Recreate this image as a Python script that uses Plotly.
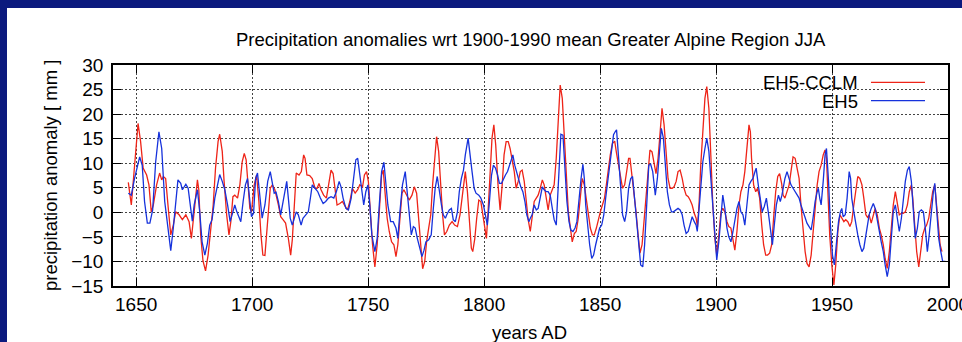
import plotly.graph_objects as go

# ---------------- data ----------------
cclm_years = [1646.6, 1647.9, 1650.8, 1651.9, 1653.0, 1654.5, 1655.5, 1656.5, 1657.4, 1658.8, 1660.1, 1661.0, 1661.7, 1662.7, 1663.7, 1664.9, 1666.0, 1667.0, 1668.5, 1669.9, 1671.4, 1672.8, 1673.8, 1675.2, 1676.4, 1677.0, 1677.8, 1678.8, 1679.9, 1681.0, 1682.2, 1683.2, 1684.2, 1685.3, 1686.0, 1687.1, 1687.9, 1689.0, 1690.0, 1690.8, 1691.7, 1692.5, 1693.7, 1694.7, 1695.7, 1696.6, 1697.4, 1698.3, 1699.0, 1699.7, 1700.9, 1701.9, 1702.9, 1703.8, 1704.6, 1705.5, 1706.7, 1707.8, 1708.7, 1709.8, 1711.3, 1712.3, 1713.3, 1714.4, 1715.6, 1716.6, 1717.3, 1718.0, 1719.0, 1720.2, 1721.2, 1722.2, 1722.8, 1723.6, 1724.8, 1725.9, 1727.1, 1728.0, 1728.8, 1729.7, 1730.8, 1732.0, 1733.2, 1734.0, 1734.9, 1735.7, 1736.6, 1737.8, 1738.9, 1740.1, 1741.1, 1742.1, 1743.2, 1744.4, 1745.5, 1746.4, 1747.6, 1748.4, 1749.3, 1750.1, 1751.0, 1751.9, 1752.9, 1753.9, 1754.8, 1755.8, 1756.5, 1757.4, 1758.2, 1759.1, 1760.1, 1761.1, 1762.0, 1762.8, 1763.7, 1764.6, 1765.4, 1766.6, 1767.7, 1768.9, 1769.9, 1770.9, 1771.8, 1772.6, 1773.5, 1774.4, 1775.2, 1776.1, 1777.0, 1777.8, 1778.7, 1779.5, 1780.4, 1781.3, 1782.1, 1782.9, 1783.9, 1785.0, 1786.2, 1787.3, 1788.5, 1789.6, 1790.8, 1791.9, 1792.8, 1793.7, 1794.5, 1795.1, 1796.0, 1796.8, 1797.7, 1798.6, 1799.4, 1800.3, 1801.0, 1801.7, 1802.6, 1803.4, 1804.2, 1805.0, 1806.0, 1806.9, 1807.8, 1808.6, 1809.5, 1810.4, 1811.2, 1812.1, 1813.0, 1813.8, 1814.7, 1815.6, 1816.4, 1817.3, 1818.1, 1819.0, 1819.9, 1820.7, 1821.6, 1822.5, 1823.3, 1824.2, 1825.1, 1825.9, 1826.8, 1827.6, 1828.5, 1829.4, 1830.2, 1831.1, 1832.0, 1832.8, 1833.7, 1834.6, 1835.4, 1836.3, 1837.2, 1838.0, 1838.9, 1839.7, 1840.6, 1841.5, 1842.3, 1843.2, 1844.1, 1844.9, 1845.8, 1846.7, 1847.5, 1848.4, 1849.3, 1850.1, 1851.0, 1851.9, 1852.7, 1853.6, 1854.4, 1855.3, 1856.3, 1857.1, 1858.0, 1858.9, 1859.7, 1860.6, 1861.4, 1862.3, 1862.9, 1863.8, 1864.6, 1865.5, 1866.4, 1867.2, 1868.1, 1869.0, 1869.8, 1870.7, 1871.5, 1872.4, 1873.3, 1874.1, 1875.0, 1875.9, 1876.7, 1877.6, 1878.5, 1879.3, 1880.2, 1881.1, 1881.9, 1882.8, 1883.6, 1884.5, 1885.4, 1886.2, 1887.1, 1888.0, 1888.8, 1889.7, 1890.6, 1891.4, 1892.0, 1892.7, 1893.4, 1894.3, 1895.2, 1896.0, 1896.9, 1897.8, 1898.6, 1899.5, 1900.3, 1901.2, 1902.1, 1902.9, 1903.8, 1904.7, 1905.5, 1906.4, 1907.3, 1908.1, 1909.0, 1909.9, 1910.7, 1911.6, 1912.4, 1913.3, 1914.2, 1914.8, 1915.3, 1916.2, 1917.1, 1917.9, 1918.8, 1919.7, 1920.5, 1921.4, 1922.2, 1923.1, 1924.0, 1924.8, 1925.7, 1926.6, 1927.4, 1928.3, 1928.9, 1929.7, 1930.6, 1931.5, 1932.3, 1933.2, 1934.1, 1934.9, 1935.8, 1936.6, 1937.5, 1938.4, 1939.2, 1940.1, 1941.0, 1941.8, 1942.7, 1943.6, 1944.4, 1945.3, 1946.2, 1947.0, 1947.6, 1948.2, 1949.0, 1949.9, 1950.8, 1951.6, 1952.5, 1953.4, 1954.2, 1955.1, 1955.9, 1956.8, 1957.7, 1958.5, 1959.4, 1960.3, 1961.1, 1962.0, 1962.9, 1963.7, 1964.6, 1965.3, 1966.0, 1966.9, 1967.8, 1968.6, 1969.5, 1970.4, 1971.2, 1972.1, 1972.9, 1973.8, 1974.7, 1975.5, 1976.4, 1977.3, 1978.1, 1979.0, 1979.9, 1980.7, 1981.6, 1982.5, 1983.3, 1984.2, 1984.8, 1985.6, 1986.5, 1987.4, 1988.2, 1989.1, 1990.0, 1990.8, 1991.7, 1992.5, 1993.4, 1994.3, 1994.8, 1995.7, 1996.6, 1997.4]
cclm_values = [6.1, 1.5, 18.1, 14.4, 9.0, 7.6, 5.6, 0.1, 1.5, 5.6, 8.0, 6.6, 7.3, 6.9, 1.5, -4.6, -2.6, 0.1, -0.5, -1.5, -0.5, -1.9, -5.3, 0.8, 6.6, 4.6, -4.6, -9.9, -11.9, -8.7, -3.2, 1.5, 9.0, 14.4, 15.9, 12.4, 6.3, -0.5, -4.6, -1.9, 3.2, 3.5, 2.9, 5.6, 10.3, 12.0, 10.7, 4.9, 0.8, 0.1, 5.6, 7.6, 2.2, -4.6, -8.7, -8.8, -1.2, 4.9, 5.6, 4.6, 1.5, -0.9, -1.5, -2.2, -5.3, -8.7, -5.6, 0.8, 8.0, 7.6, 8.3, 11.7, 11.0, 7.6, 7.5, 6.9, 4.9, 4.9, 5.9, 4.6, 3.5, 2.9, 5.9, 8.6, 7.9, 4.2, 1.5, 1.8, 2.2, 1.2, 0.5, 2.2, 4.9, 3.9, 4.6, 5.6, 5.2, 7.6, 8.3, 6.3, -0.5, -6.6, -11.1, -6.6, 0.1, 7.6, 8.6, 4.2, -1.2, -3.9, -6.0, -6.6, -9.0, -6.6, -0.5, 3.9, 4.6, 3.5, 2.5, 3.5, 5.2, 3.9, -1.2, -7.3, -11.5, -10.0, -6.0, -3.2, -0.5, 5.6, 11.7, 15.4, 12.4, 4.9, -0.5, -4.6, -3.9, -2.6, -1.9, -2.6, -2.9, -0.5, 4.2, 8.3, 4.2, -2.6, -7.3, -8.0, -5.3, -1.2, 2.5, 2.2, -0.5, -3.2, -5.3, 0.1, 8.3, 15.1, 17.8, 13.7, 5.6, 0.5, 5.6, 11.7, 14.4, 14.4, 13.0, 10.3, 8.3, 4.9, 6.3, 8.3, 8.6, 6.3, 2.2, -1.5, -3.9, -1.2, 2.2, 2.9, 3.5, 4.9, 6.6, 5.6, 2.9, 0.5, 3.5, 4.6, 5.6, 11.0, 19.1, 25.9, 23.2, 15.7, 6.9, 0.1, -3.2, -6.0, -4.3, -3.9, -1.2, 2.9, 6.9, 5.6, 2.2, -0.5, -3.2, -4.6, -4.6, -3.2, -1.2, 0.1, 1.5, 2.9, 5.6, 9.0, 11.7, 14.0, 14.5, 12.0, 9.6, 6.9, 4.9, 5.6, 8.3, 11.0, 11.0, 7.6, 4.2, 0.1, -4.6, -8.3, -6.6, -1.2, 4.2, 9.6, 12.7, 12.3, 9.6, 7.9, 11.0, 15.7, 21.2, 17.8, 11.0, 6.9, 4.9, 4.9, 5.2, 6.3, 8.3, 8.6, 6.9, 4.9, 3.5, 3.2, 2.5, 1.5, -0.2, -1.2, -3.0, 2.0, 9.6, 17.1, 23.2, 25.6, 21.2, 11.0, 1.5, -5.3, -8.7, -4.6, 0.1, 0.8, 0.1, -1.9, -2.9, -3.2, -5.3, -7.7, -3.9, 1.5, 4.2, 5.6, 8.3, 13.0, 17.8, 16.4, 11.0, 5.6, 4.2, 4.9, 2.9, -2.6, -6.6, -8.7, -8.7, -8.3, -6.6, -1.2, 4.2, 7.3, 7.9, 5.8, 3.5, 2.9, 4.2, 5.6, 8.3, 11.3, 11.0, 9.0, 6.9, 1.5, -3.9, -8.0, -10.4, -11.1, -8.7, -3.9, 1.5, 5.6, 8.3, 9.6, 11.7, 12.7, 11.0, 4.2, -4.6, -10.7, -14.8, -10.7, -3.9, -0.5, -1.2, -1.9, -1.5, -1.9, -2.9, -1.9, 1.5, 4.9, 7.3, 6.9, 5.6, 2.9, -0.5, -1.0, -0.5, -2.2, -0.5, 0.8, -0.5, -3.2, -4.6, -6.6, -9.4, -11.4, -8.0, -3.2, 1.5, 4.2, 1.5, -0.5, -0.2, -0.2, 0.1, 1.5, 4.2, 5.6, 2.9, -2.6, -8.0, -11.1, -8.0, -4.6, -3.2, -2.6, -1.2, 1.5, 4.2, 5.6, 2.9, -2.6, -6.6, -8.0]

eh5_years = [1646.6, 1647.9, 1649.3, 1651.5, 1652.6, 1653.6, 1654.8, 1655.9, 1657.1, 1658.4, 1659.8, 1661.0, 1662.3, 1663.7, 1664.9, 1666.0, 1667.0, 1668.0, 1669.2, 1669.9, 1671.4, 1672.4, 1673.5, 1674.2, 1675.0, 1676.4, 1677.4, 1678.4, 1679.6, 1680.7, 1681.7, 1682.7, 1683.9, 1685.0, 1686.0, 1687.1, 1688.2, 1689.4, 1690.5, 1691.7, 1692.5, 1693.4, 1694.3, 1695.1, 1696.1, 1697.1, 1698.0, 1698.9, 1699.7, 1700.6, 1701.5, 1702.3, 1703.3, 1704.3, 1705.5, 1706.7, 1707.8, 1708.7, 1709.5, 1710.3, 1711.3, 1712.3, 1713.0, 1714.1, 1714.9, 1715.6, 1716.4, 1717.3, 1718.2, 1719.0, 1719.9, 1721.1, 1721.9, 1723.1, 1724.2, 1725.1, 1725.9, 1727.1, 1728.3, 1729.4, 1730.6, 1731.7, 1732.9, 1734.0, 1735.2, 1736.3, 1737.5, 1738.3, 1739.2, 1740.4, 1741.5, 1742.7, 1743.5, 1744.7, 1745.5, 1746.4, 1747.3, 1748.1, 1749.0, 1749.9, 1750.7, 1751.6, 1752.9, 1753.9, 1754.8, 1755.8, 1756.8, 1757.6, 1758.5, 1759.7, 1760.8, 1762.0, 1762.8, 1763.7, 1764.8, 1766.0, 1766.9, 1767.7, 1768.6, 1769.5, 1770.3, 1771.2, 1772.3, 1773.2, 1774.1, 1774.9, 1776.1, 1777.2, 1778.1, 1778.9, 1779.8, 1780.7, 1781.6, 1782.4, 1783.3, 1783.9, 1785.0, 1785.9, 1786.7, 1787.6, 1788.5, 1789.3, 1790.2, 1791.1, 1791.9, 1793.1, 1793.9, 1794.8, 1795.7, 1796.5, 1797.7, 1798.6, 1799.7, 1800.6, 1801.4, 1802.3, 1803.2, 1804.0, 1804.9, 1805.8, 1806.6, 1807.5, 1808.3, 1809.2, 1810.1, 1810.9, 1811.8, 1812.4, 1813.2, 1814.1, 1815.0, 1815.8, 1816.7, 1817.6, 1818.4, 1819.3, 1819.9, 1820.7, 1821.6, 1822.5, 1823.3, 1824.2, 1825.1, 1825.9, 1826.8, 1827.6, 1828.5, 1829.4, 1830.2, 1831.1, 1831.7, 1832.5, 1833.1, 1834.0, 1834.8, 1835.7, 1836.6, 1837.4, 1838.3, 1839.2, 1840.0, 1840.9, 1841.8, 1842.6, 1843.2, 1843.8, 1844.6, 1845.5, 1846.4, 1847.2, 1848.1, 1849.0, 1849.8, 1850.7, 1851.6, 1852.4, 1853.3, 1854.2, 1855.0, 1855.8, 1856.5, 1857.1, 1858.0, 1858.9, 1859.7, 1860.6, 1861.4, 1862.3, 1863.2, 1864.0, 1864.9, 1865.8, 1866.6, 1867.5, 1868.4, 1869.2, 1870.1, 1871.0, 1871.8, 1872.7, 1873.8, 1874.7, 1875.6, 1876.4, 1877.3, 1878.2, 1879.0, 1879.9, 1880.8, 1881.6, 1882.5, 1883.6, 1884.5, 1885.4, 1886.2, 1887.1, 1888.0, 1888.8, 1889.7, 1890.6, 1891.4, 1891.9, 1892.6, 1893.4, 1894.3, 1895.2, 1896.0, 1896.9, 1897.8, 1898.6, 1899.5, 1900.3, 1901.2, 1902.1, 1902.9, 1903.8, 1904.7, 1905.5, 1906.4, 1907.3, 1908.1, 1909.0, 1909.9, 1910.7, 1911.6, 1912.4, 1913.3, 1914.2, 1915.0, 1915.9, 1916.8, 1917.3, 1918.2, 1919.1, 1919.9, 1920.8, 1921.7, 1922.5, 1923.4, 1924.3, 1925.1, 1926.0, 1926.9, 1927.7, 1928.4, 1929.7, 1930.6, 1931.5, 1932.3, 1933.2, 1934.1, 1934.9, 1935.8, 1936.6, 1937.5, 1938.4, 1939.2, 1940.1, 1941.0, 1941.8, 1942.7, 1943.6, 1944.1, 1944.7, 1945.3, 1946.2, 1947.0, 1947.6, 1948.5, 1949.3, 1950.2, 1951.0, 1951.9, 1952.8, 1953.6, 1954.2, 1954.8, 1955.7, 1956.5, 1957.4, 1958.0, 1958.5, 1959.4, 1960.3, 1961.1, 1962.0, 1962.9, 1963.7, 1964.5, 1965.2, 1966.0, 1966.9, 1967.8, 1968.6, 1969.5, 1970.4, 1971.2, 1972.1, 1972.9, 1973.8, 1974.7, 1975.5, 1976.4, 1977.3, 1978.1, 1979.0, 1979.9, 1980.7, 1981.6, 1982.5, 1983.3, 1984.2, 1985.0, 1985.9, 1986.8, 1987.6, 1988.5, 1989.4, 1990.2, 1991.1, 1991.9, 1992.8, 1993.7, 1994.3, 1995.1, 1996.0, 1996.9, 1997.7, 1998.9]
eh5_values = [3.9, 3.5, 6.9, 11.3, 9.6, 2.2, -2.2, -2.2, 0.5, 10.3, 16.4, 13.0, 2.2, -3.2, -7.8, -3.2, 1.5, 6.6, 5.9, 4.6, 5.7, 4.9, 0.8, -1.8, 1.5, 4.6, 0.1, -6.0, -8.7, -6.3, -2.6, -1.5, 2.9, 5.6, 7.7, 6.3, 4.6, 1.5, -1.9, 0.1, 1.5, 0.1, -1.2, -1.9, 2.2, 5.6, 6.9, 2.9, -0.9, -0.2, 6.9, 8.0, 2.9, -1.2, 1.5, 6.3, 8.3, 5.6, 3.9, 4.1, 2.2, -0.5, 1.5, 4.2, 6.3, 2.9, -1.2, -2.6, -1.2, 0.1, -0.5, -2.6, -1.2, -0.5, 0.1, 2.9, 5.6, 4.9, 4.2, 2.9, 1.8, 2.2, 2.9, 3.2, 2.9, 4.2, 6.3, 5.2, 2.9, 0.8, 0.5, 2.9, 6.3, 10.7, 11.0, 7.9, 4.5, 1.5, 4.2, 5.6, 1.5, -4.6, -8.0, -5.3, 1.5, 8.3, 10.2, 5.6, 1.5, -1.9, -1.9, -3.2, -5.3, 0.1, 5.6, 8.3, 4.2, -0.5, -4.6, -2.9, -3.2, -5.3, -7.3, -9.0, -7.7, -6.0, -5.6, -4.6, 0.8, 4.9, 7.3, 4.2, 1.5, -0.5, -1.2, -0.5, 0.5, 0.8, -1.5, -1.9, 0.1, 4.2, 6.9, 8.6, 11.7, 15.1, 12.4, 8.3, 4.9, 3.9, 3.5, 2.9, 1.5, -0.5, -2.6, 2.2, 7.6, 9.6, 9.0, 7.6, 5.9, 5.9, 6.9, 7.6, 8.3, 9.6, 11.0, 11.7, 9.6, 7.9, 6.3, 5.2, 4.2, 2.2, -0.5, -1.9, -1.2, -0.5, 1.5, 0.5, 0.8, 2.9, 5.2, 4.6, 4.2, 4.2, 3.5, 0.8, -1.5, -2.6, 3.5, 12.4, 15.9, 15.7, 9.0, 2.2, -1.9, -3.6, -3.9, -3.2, -1.9, 2.9, 6.9, 9.8, 6.9, 1.5, -2.6, -6.6, -9.4, -8.7, -6.6, -4.6, -3.2, -2.6, -0.5, 2.9, 6.3, 9.6, 13.0, 15.8, 16.4, 16.8, 11.0, 4.2, -0.5, -1.9, 0.1, 4.9, 6.9, 7.3, 2.9, -1.9, -6.6, -10.7, -11.1, -6.6, 1.5, 9.6, 9.8, 8.3, 3.5, 6.9, 12.3, 17.1, 15.1, 9.0, 4.2, 1.5, 0.1, 0.1, 0.5, 0.8, 0.5, -0.5, -2.6, -4.3, -3.9, -2.6, -0.9, -1.9, -2.6, -3.9, 0.1, 5.6, 10.3, 13.0, 15.1, 12.4, 6.9, 0.1, -4.6, -9.7, -6.0, -0.5, 3.5, 0.8, -3.2, -5.0, -6.0, -3.9, -1.2, 0.8, 2.2, 0.1, -0.5, -2.6, 1.5, 5.6, 6.3, 6.9, 8.3, 9.0, 5.6, 2.9, 0.1, 1.2, 2.9, 0.1, -3.9, -6.6, -2.6, 1.5, 3.5, 2.2, 3.5, 6.9, 8.3, 6.9, 5.6, 4.9, 4.2, 3.5, 2.9, 1.5, 0.1, -1.2, -2.2, -2.9, -3.6, -1.2, 2.2, 4.2, 4.9, 2.9, 1.5, 6.3, 11.7, 13.0, 6.3, -2.6, -8.7, -10.7, -6.6, -1.9, 0.1, 0.8, -0.9, -0.5, 2.9, 8.3, 6.9, 2.9, 0.1, -2.6, -4.6, -6.6, -8.0, -7.3, -5.0, -2.6, -0.5, 0.8, 1.8, 0.8, -1.2, -3.9, -6.0, -8.0, -10.7, -13.1, -10.7, -5.3, 0.1, 1.5, -1.2, -3.9, -1.2, 2.9, 6.3, 8.6, 9.3, 6.3, 0.1, -5.3, -3.2, 0.1, 0.5, 0.1, -3.2, -8.0, -4.6, 0.1, 4.2, 5.9, 0.1, -5.3, -8.0, -10.0, -10.0]

series_names = ["EH5-CCLM", "EH5"]
x_tick_values = [1650, 1700, 1750, 1800, 1850, 1900, 1950, 2000]
y_tick_values = [-15, -10, -5, 0, 5, 10, 15, 20, 25, 30]
title_text = "Precipitation anomalies wrt 1900-1990 mean Greater Alpine Region JJA"
x_title = "years AD"
y_title = "precipitation anomaly [ mm ]"

# ---------------- style ----------------
RED = "#ee2418"
BLUE = "#1632dc"
NAVY = "#0b1a7e"
FONT = "Liberation Sans, Arial, Helvetica, sans-serif"

W, H = 962, 342
L, R, T, B = 113, 14, 65, 56
pw, ph = W - L - R, H - T - B


def px(xp):
    return (xp - L) / pw


def py(yp):
    return (H - B - yp) / ph


fig = go.Figure()
fig.add_trace(go.Scatter(x=cclm_years, y=cclm_values, mode="lines", name=series_names[0],
                         line=dict(color=RED, width=1.3), showlegend=False))
fig.add_trace(go.Scatter(x=eh5_years, y=eh5_values, mode="lines", name=series_names[1],
                         line=dict(color=BLUE, width=1.3), showlegend=False))

axis_common = dict(
    showline=True, linecolor="black", linewidth=1.5, mirror="ticks",
    ticks="inside", ticklen=8, tickwidth=1, tickcolor="black",
    showgrid=True, gridcolor="#444444", gridwidth=1, griddash="2px,2px",
    zeroline=False, tickfont=dict(family=FONT, size=19, color="black"),
    ticklabeloverflow="allow",
)

fig.update_xaxes(range=[1640, 2000], tickvals=x_tick_values, ticklabelstandoff=0, **axis_common)
fig.update_yaxes(range=[-15, 30], tickvals=y_tick_values, ticklabelstandoff=4, **axis_common)

shapes = [
    # blue frame of the slide
    dict(type="rect", xref="paper", yref="paper", x0=px(0), x1=px(W), y0=py(8), y1=py(0),
         fillcolor=NAVY, line=dict(width=0), layer="above"),
    dict(type="rect", xref="paper", yref="paper", x0=px(0), x1=px(7), y0=py(H), y1=py(0),
         fillcolor=NAVY, line=dict(width=0), layer="above"),
    # opaque key box
    dict(type="rect", xref="paper", yref="paper", x0=px(766), x1=px(946), y0=py(109), y1=py(66),
         fillcolor="white", line=dict(width=0), layer="between"),
    # key samples
    dict(type="line", xref="paper", yref="paper", x0=px(871), x1=px(925), y0=py(82.3), y1=py(82.3),
         line=dict(color=RED, width=1.3)),
    dict(type="line", xref="paper", yref="paper", x0=px(871), x1=px(925), y0=py(100.7), y1=py(100.7),
         line=dict(color=BLUE, width=1.3)),
]

annotations = [
    dict(text=title_text, xref="paper", yref="paper", x=0.5, y=py(40), xanchor="center", yanchor="middle",
         showarrow=False, font=dict(family=FONT, size=18.5, color="black")),
    dict(text=x_title, xref="paper", yref="paper", x=px(529), y=py(332), xanchor="center", yanchor="middle",
         showarrow=False, font=dict(family=FONT, size=18.5, color="black")),
    dict(text=y_title, xref="paper", yref="paper", x=px(50), y=py(176), xanchor="center", yanchor="middle",
         textangle=-90, showarrow=False, font=dict(family=FONT, size=18.5, color="black")),
    dict(text=series_names[0], xref="paper", yref="paper", x=px(860), y=py(82.5), xanchor="right", yanchor="middle",
         showarrow=False, font=dict(family=FONT, size=18.5, color="black")),
    dict(text=series_names[1], xref="paper", yref="paper", x=px(860), y=py(101), xanchor="right", yanchor="middle",
         showarrow=False, font=dict(family=FONT, size=18.5, color="black")),
]

fig.update_layout(
    width=W, height=H, margin=dict(l=L, r=R, t=T, b=B, autoexpand=False),
    paper_bgcolor="white", plot_bgcolor="white",
    shapes=shapes, annotations=annotations, showlegend=False,
    font=dict(family=FONT, color="black"),
)

fig.write_html("out.html", config={"displayModeBar": False},
               post_script="document.body.style.margin='0';document.body.style.overflow='hidden';")
